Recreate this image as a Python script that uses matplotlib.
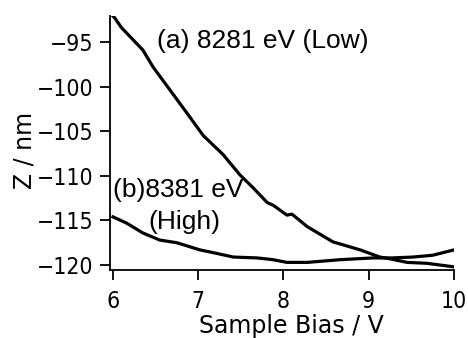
import matplotlib
matplotlib.use("Agg")
import matplotlib.pyplot as plt

# Curve (a) 8281 eV (Low)
bias_a = [6.00, 6.02, 6.10, 6.20, 6.35, 6.47, 6.67, 6.87, 7.06, 7.29, 7.49, 7.64, 7.81, 7.88, 8.04, 8.10, 8.28, 8.58, 8.90, 9.13, 9.25, 9.45, 9.68, 10.00]
z_a = [-92.1, -92.3, -93.4, -94.4, -95.9, -97.8, -100.4, -103.0, -105.5, -107.6, -109.9, -111.3, -113.0, -113.3, -114.4, -114.3, -115.7, -117.4, -118.3, -119.1, -119.3, -119.7, -119.8, -120.2]

# Curve (b) 8381 eV (High)
bias_b = [6.00, 6.16, 6.35, 6.55, 6.75, 7.02, 7.22, 7.41, 7.69, 7.88, 8.04, 8.28, 8.66, 9.05, 9.28, 9.52, 9.75, 10.00]
z_b = [-114.6, -115.3, -116.4, -117.2, -117.5, -118.3, -118.7, -119.1, -119.2, -119.4, -119.7, -119.7, -119.4, -119.2, -119.2, -119.1, -118.9, -118.3]

xticks = [6, 7, 8, 9, 10]
yticks = [-95, -100, -105, -110, -115, -120]

fig = plt.figure(figsize=(4.68, 3.38), dpi=100)
ax = fig.add_axes([0.235, 0.201, 0.735, 0.752])
ax.plot(bias_a, z_a, color="black", lw=2.3)
ax.plot(bias_b, z_b, color="black", lw=2.3)
ax.set_xlim(5.965, 10.0)
ax.set_ylim(-120.56, -92.08)
ax.set_xticks(xticks)
ax.set_yticks(yticks)
ax.set_yticklabels(["\u2212%d" % abs(v) for v in yticks])
for lab in ax.get_xticklabels() + ax.get_yticklabels():
    lab.set_family(["DejaVu Sans"])
    lab.set_stretch("condensed")
    lab.set_fontsize(16.5)
ax.tick_params(direction="out", length=7, width=1.3, color="black")
ax.tick_params(axis="x", pad=7)
ax.tick_params(axis="y", pad=5)
for s in ["top", "right"]:
    ax.spines[s].set_visible(False)
for s in ["left", "bottom"]:
    ax.spines[s].set_linewidth(1.3)
ax.set_xlabel("Sample Bias / V", fontsize=17, family=["DejaVu Sans"])
ax.set_ylabel("Z / nm", fontsize=17, family=["DejaVu Sans"])
ax.xaxis.set_label_coords(0.526, -0.172)
ax.yaxis.set_label_coords(-0.215, 0.469)

ax.text(6.52, -94.9, "(a) 8281 eV (Low)", fontsize=19, family=["Liberation Sans", "DejaVu Sans"], va="center", ha="left")
ax.text(6.0, -111.6, "(b)8381 eV", fontsize=19, family=["Liberation Sans", "DejaVu Sans"], va="center", ha="left")
ax.text(6.42, -115.2, "(High)", fontsize=19, family=["Liberation Sans", "DejaVu Sans"], va="center", ha="left")

fig.savefig("out.png", dpi=100)
